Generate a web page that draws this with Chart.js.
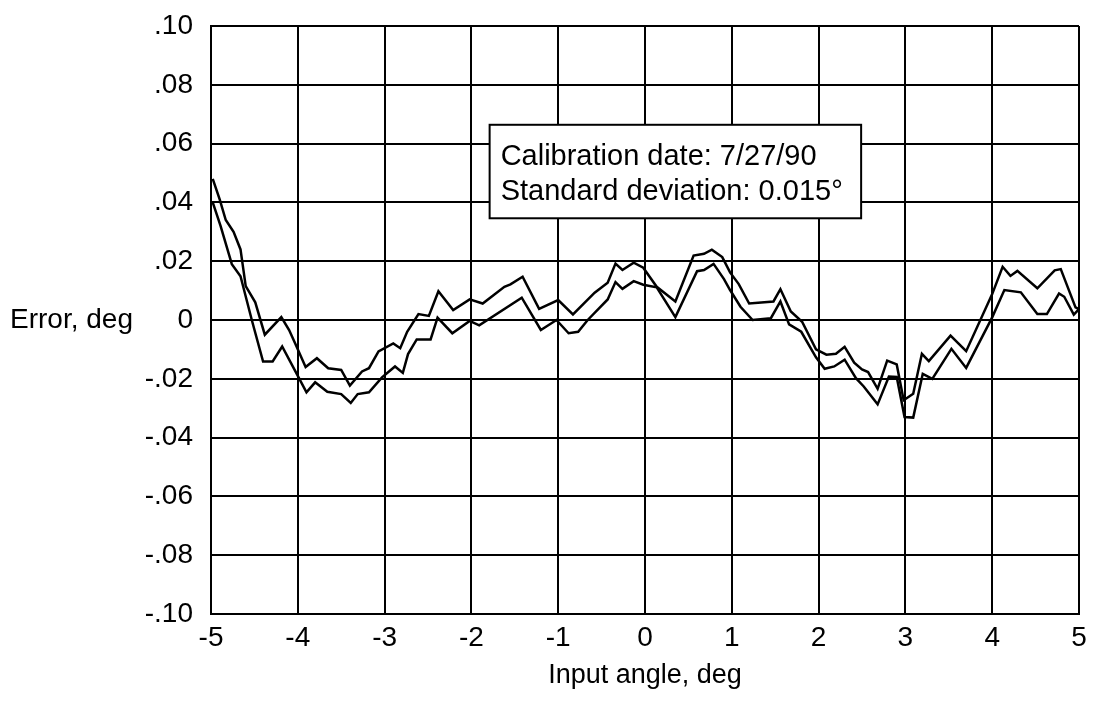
<!DOCTYPE html>
<html>
<head>
<meta charset="utf-8">
<script src="https://cdn.jsdelivr.net/npm/chart.js"></script>
<style>
  body { margin: 0; background: #fff; }
  #wrap { width: 1096px; height: 701px; }
</style>
</head>
<body>
<div id="wrap"><canvas id="chart" width="1096" height="701"></canvas></div>
<script>
// input angle (deg) and error (deg)
const upperX = [-4.98, -4.90, -4.83, -4.74, -4.66, -4.60, -4.49, -4.38, -4.19, -4.10, -4.03, -3.91, -3.78, -3.65, -3.50, -3.40, -3.26, -3.18, -3.07, -2.90, -2.82, -2.74, -2.61, -2.49, -2.38, -2.21, -2.02, -1.87, -1.62, -1.55, -1.41, -1.22, -1.00, -0.83, -0.58, -0.43, -0.34, -0.26, -0.13, -0.02, 0.135, 0.35, 0.56, 0.68, 0.77, 0.89, 0.98, 1.08, 1.20, 1.48, 1.56, 1.68, 1.81, 1.97, 2.09, 2.20, 2.30, 2.41, 2.50, 2.57, 2.68, 2.79, 2.90, 2.98, 3.09, 3.19, 3.27, 3.52, 3.70, 4.00, 4.12, 4.21, 4.29, 4.52, 4.72, 4.79, 4.96, 5.00];
const upperY = [0.048, 0.041, 0.034, 0.030, 0.024, 0.0115, 0.006, -0.005, 0.001, -0.0034, -0.008, -0.016, -0.013, -0.0164, -0.017, -0.0223, -0.0175, -0.0164, -0.0107, -0.008, -0.0096, -0.004, 0.002, 0.0014, 0.0098, 0.0034, 0.007, 0.0056, 0.0113, 0.0121, 0.0147, 0.0038, 0.0068, 0.0019, 0.0093, 0.0127, 0.0192, 0.017, 0.0195, 0.0178, 0.0113, 0.0063, 0.0219, 0.0225, 0.0239, 0.0214, 0.0162, 0.0122, 0.0056, 0.0063, 0.0105, 0.0029, -0.0006, -0.010, -0.0118, -0.0115, -0.0091, -0.0145, -0.0168, -0.0177, -0.0234, -0.0138, -0.0151, -0.0273, -0.0251, -0.0115, -0.014, -0.0053, -0.0106, 0.0088, 0.0181, 0.015, 0.0167, 0.0108, 0.0169, 0.0173, 0.0043, 0.0037];

const lowerX = [-4.98, -4.89, -4.76, -4.66, -4.53, -4.40, -4.29, -4.18, -4.00, -3.90, -3.80, -3.66, -3.50, -3.39, -3.31, -3.18, -3.03, -2.88, -2.79, -2.73, -2.63, -2.47, -2.39, -2.22, -2.02, -1.91, -1.42, -1.20, -1.02, -0.88, -0.77, -0.66, -0.43, -0.34, -0.26, -0.13, -0.02, 0.135, 0.35, 0.60, 0.68, 0.79, 0.91, 0.98, 1.10, 1.24, 1.45, 1.56, 1.66, 1.80, 1.97, 2.07, 2.18, 2.30, 2.43, 2.52, 2.68, 2.81, 2.90, 2.99, 3.09, 3.20, 3.31, 3.53, 3.70, 4.00, 4.14, 4.33, 4.52, 4.63, 4.77, 4.83, 4.94, 5.00];
const lowerY = [0.040, 0.032, 0.019, 0.0149, 0.0, -0.0141, -0.0141, -0.009, -0.019, -0.0246, -0.0212, -0.0244, -0.0252, -0.0282, -0.0252, -0.0246, -0.0195, -0.0158, -0.018, -0.0116, -0.0066, -0.0066, 0.0008, -0.0045, -0.0003, -0.0018, 0.0076, -0.0034, 0.0, -0.0045, -0.004, 0.0, 0.007, 0.0129, 0.0106, 0.0132, 0.012, 0.0111, 0.001, 0.0166, 0.017, 0.0191, 0.0139, 0.0102, 0.0045, 0.0, 0.0006, 0.0063, -0.0015, -0.004, -0.0127, -0.0166, -0.0158, -0.0135, -0.0198, -0.0226, -0.0287, -0.0192, -0.0194, -0.033, -0.0332, -0.0183, -0.02, -0.0098, -0.0163, 0.0009, 0.0102, 0.0094, 0.002, 0.002, 0.009, 0.0079, 0.0018, 0.0037];

const noteLines = ['Calibration date: 7/27/90', 'Standard deviation: 0.015°'];
const yTitle = 'Error, deg';
const xTitle = 'Input angle, deg';

const FONT = '"Liberation Sans", Arial, Helvetica, sans-serif';

function toPoints(xs, ys) {
  return xs.map((x, i) => ({ x: x, y: ys[i] }));
}

function fmtY(v) {
  if (Math.abs(v) < 1e-9) return '0';
  return (v < 0 ? '-' : '') + Math.abs(v).toFixed(2).replace(/^0/, '');
}

// y axis label on the left and the boxed note inside the plot
const extras = {
  id: 'extras',
  afterDraw(chart) {
    const ctx = chart.ctx;
    const xs = chart.scales.x;
    const ys = chart.scales.y;
    ctx.save();
    ctx.fillStyle = '#000';
    ctx.font = '28px ' + FONT;
    ctx.textAlign = 'left';
    ctx.textBaseline = 'middle';
    ctx.fillText(yTitle, 10, ys.getPixelForValue(0));

    const left = xs.getPixelForValue(-1.79);
    const right = xs.getPixelForValue(2.49);
    const top = ys.getPixelForValue(0.0664);
    const bottom = ys.getPixelForValue(0.0346);
    ctx.fillStyle = '#fff';
    ctx.fillRect(left, top, right - left, bottom - top);
    ctx.strokeStyle = '#000';
    ctx.lineWidth = 2;
    ctx.strokeRect(left, top, right - left, bottom - top);
    ctx.fillStyle = '#000';
    ctx.font = '29px ' + FONT;
    ctx.textBaseline = 'alphabetic';
    ctx.fillText(noteLines[0], left + 11, top + 40);
    ctx.fillText(noteLines[1], left + 11, top + 75);
    ctx.restore();
  }
};

new Chart(document.getElementById('chart'), {
  type: 'line',
  data: {
    datasets: [
      { data: toPoints(upperX, upperY), borderColor: '#000', borderWidth: 2.5, pointRadius: 0, tension: 0, fill: false },
      { data: toPoints(lowerX, lowerY), borderColor: '#000', borderWidth: 2.5, pointRadius: 0, tension: 0, fill: false }
    ]
  },
  options: {
    responsive: false,
    animation: false,
    layout: { padding: { left: 0, right: 17, top: 26, bottom: 0 } },
    plugins: { legend: { display: false }, tooltip: { enabled: false } },
    scales: {
      x: {
        type: 'linear',
        min: -5, max: 5,
        ticks: { stepSize: 1, color: '#000', font: { family: FONT, size: 28 }, padding: 7, maxRotation: 0 },
        grid: { color: '#000', lineWidth: 2, drawTicks: false },
        border: { color: '#000', width: 2 },
        title: { display: true, text: xTitle, color: '#000', font: { family: FONT, size: 27 }, padding: { top: 4, bottom: 9 } },
        afterFit(s) { s.height = 87; s.paddingLeft = 0; s.paddingRight = 0; }
      },
      y: {
        min: -0.1, max: 0.1,
        ticks: { stepSize: 0.02, color: '#000', font: { family: FONT, size: 28 }, padding: 18, callback: fmtY },
        grid: { color: '#000', lineWidth: 2, drawTicks: false },
        border: { color: '#000', width: 2 },
        afterFit(s) { s.width = 211; s.paddingTop = 0; s.paddingBottom = 0; }
      }
    }
  },
  plugins: [extras]
});
</script>
</body>
</html>
